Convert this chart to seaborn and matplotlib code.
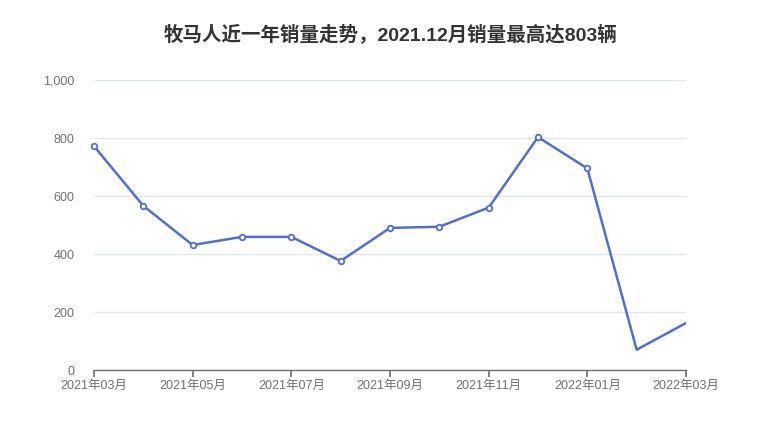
import matplotlib
matplotlib.use("Agg")
import matplotlib.pyplot as plt
import seaborn as sns
import pandas as pd

months = ["2021年03月", "2021年04月", "2021年05月", "2021年06月", "2021年07月",
          "2021年08月", "2021年09月", "2021年10月", "2021年11月", "2021年12月",
          "2022年01月", "2022年02月", "2022年03月"]
sales = [772, 566, 431, 459, 459, 376, 490, 494, 560, 803, 695, 70, 162]
title = "牧马人近一年销量走势，2021.12月销量最高达803辆"
y_ticks = [0, 200, 400, 600, 800, 1000]
y_tick_labels = ["0", "200", "400", "600", "800", "1,000"]

df = pd.DataFrame({"idx": range(len(months)), "month": months, "sales": sales})

sns.set_theme(style="white")
plt.rcParams["font.family"] = ["Liberation Sans", "Noto Sans CJK SC", "DejaVu Sans"]

fig = plt.figure(figsize=(7.8, 4.4), dpi=100)
ax = fig.add_axes([94/780, 70/440, (686-94)/780, 290/440])

color = "#5470c6"
sns.lineplot(data=df, x="idx", y="sales", ax=ax, color=color, linewidth=1.8, zorder=3)
sns.scatterplot(data=df.iloc[:11], x="idx", y="sales", ax=ax, color="white",
                edgecolor=color, linewidth=1.3, s=16, zorder=4, clip_on=False)

ax.set_xlim(0, len(months) - 1)
ax.set_ylim(0, 1000)
ax.set_yticks(y_ticks)
ax.set_yticklabels(y_tick_labels)
xt = list(range(0, len(months), 2))
ax.set_xticks(xt)
ax.set_xticklabels([months[i] for i in xt])
ax.set_xlabel("")
ax.set_ylabel("")

ax.grid(axis="y", color="#e0e6f1", linewidth=0.9)
ax.grid(axis="x", visible=False)
for s in ["top", "right", "left"]:
    ax.spines[s].set_visible(False)
ax.spines["bottom"].set_color("#6e7079")
ax.spines["bottom"].set_linewidth(1)
ax.tick_params(axis="x", bottom=True, length=5, color="#6e7079", colors="#6e7079",
               labelsize=9, pad=2)
ax.tick_params(axis="y", left=False, colors="#6e7079", labelsize=9, pad=8)
for lbl in ax.get_xticklabels() + ax.get_yticklabels():
    lbl.set_color("#6e7079")

fig.text(390/780, 1 - 34/440, title, ha="center", va="center",
         fontsize=14, fontweight="bold", color="#333333")

fig.savefig("out.png", dpi=100)
